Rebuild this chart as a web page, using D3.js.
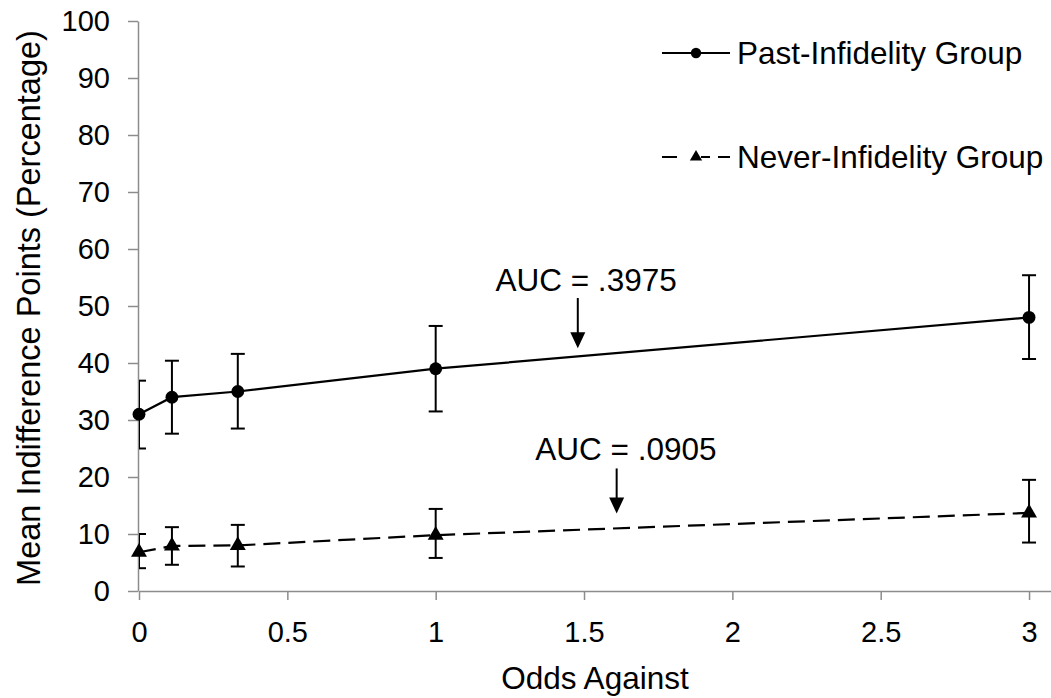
<!DOCTYPE html>
<html>
<head>
<meta charset="utf-8">
<script src="https://cdn.jsdelivr.net/npm/d3@7"></script>
<style>
  body { margin: 0; background: #fff; }
  svg { display: block; font-family: "Liberation Sans", Arial, sans-serif; }
</style>
</head>
<body>
<div id="chart"></div>
<script>
// odds against values and group means (percent)
const oddsAgainst = [0, 0.111, 0.333, 1, 3];
const pastMean = [31, 34, 35, 39, 48];
const pastUpper = [36.9, 40.4, 41.6, 46.5, 55.4];
const pastLower = [25.0, 27.6, 28.5, 31.5, 40.7];
const neverMean = [6.8, 7.9, 8, 9.8, 13.7];
const neverUpper = [10.0, 11.2, 11.6, 14.4, 19.5];
const neverLower = [4.0, 4.6, 4.3, 5.8, 8.5];

const xTicks = [0, 0.5, 1, 1.5, 2, 2.5, 3];
const yTicks = [0, 10, 20, 30, 40, 50, 60, 70, 80, 90, 100];
const seriesNames = ['Past-Infidelity Group', 'Never-Infidelity Group'];

// AUC annotations: label, arrow x, arrow tail / tip y, text x / baseline y
const annoLabels = ['AUC = .3975', 'AUC = .0905'];
const annoArrowX = [1.479, 1.61];
const annoTailY = [51.4, 21.5];
const annoTipY = [42.6, 13.6];
const annoTextX = [1.507, 1.641];
const annoTextY = [52.7, 23.0];

const W = 1051, H = 698;
const margin = { top: 21, right: 0, bottom: 107, left: 139 };
const axisColor = '#8c8c8c';

const svg = d3.select('#chart').append('svg')
  .attr('width', W)
  .attr('height', H);

const x = d3.scaleLinear().domain([0, 3.074]).range([margin.left, W - margin.right]);
const y = d3.scaleLinear().domain([0, 100]).range([H - margin.bottom, margin.top]);

svg.append('defs').append('clipPath')
  .attr('id', 'plot-clip')
  .append('rect')
  .attr('x', margin.left)
  .attr('y', 0)
  .attr('width', W - margin.left)
  .attr('height', H);

// y axis
const yAxis = svg.append('g')
  .attr('transform', `translate(${margin.left - 1},0)`)
  .call(d3.axisLeft(y).tickValues(yTicks).tickSize(10).tickPadding(18).tickSizeOuter(0));
yAxis.select('.domain').attr('stroke', axisColor).attr('stroke-width', 1.5);
yAxis.selectAll('.tick line').attr('stroke', axisColor).attr('stroke-width', 1.5);
yAxis.selectAll('.tick text')
  .style('font-size', '29px')
  .attr('fill', '#000');

// x axis
const xAxis = svg.append('g')
  .attr('transform', `translate(0,${y(0)})`)
  .call(d3.axisBottom(x).tickValues(xTicks).tickSize(9).tickPadding(21).tickSizeOuter(0)
    .tickFormat(d => String(d)));
xAxis.select('.domain').attr('stroke', axisColor).attr('stroke-width', 1.5);
xAxis.selectAll('.tick line').attr('stroke', axisColor).attr('stroke-width', 1.5);
xAxis.selectAll('.tick text')
  .style('font-size', '29px')
  .attr('fill', '#000');

// axis titles
svg.append('text')
  .attr('x', (margin.left + W) / 2)
  .attr('y', 689)
  .attr('text-anchor', 'middle')
  .style('font-size', '31.5px')
  .text('Odds Against');

svg.append('text')
  .attr('transform', `translate(40,308) rotate(-90)`)
  .attr('text-anchor', 'middle')
  .style('font-size', '32.5px')
  .text('Mean Indifference Points (Percentage)');

const series = [
  { name: seriesNames[0], mean: pastMean, upper: pastUpper, lower: pastLower, dash: null, marker: d3.symbolCircle },
  { name: seriesNames[1], mean: neverMean, upper: neverUpper, lower: neverLower, dash: '17,8', marker: d3.symbolTriangle }
];

const line = d3.line()
  .x((d, i) => x(oddsAgainst[i]))
  .y(d => y(d));

const plot = svg.append('g');

series.forEach(s => {
  // error bars
  const eb = plot.append('g').attr('clip-path', 'url(#plot-clip)');
  oddsAgainst.forEach((o, i) => {
    const cx = x(o);
    eb.append('line')
      .attr('x1', cx).attr('x2', cx)
      .attr('y1', y(s.upper[i])).attr('y2', y(s.lower[i]))
      .attr('stroke', '#000').attr('stroke-width', 2);
    [s.upper[i], s.lower[i]].forEach(v => {
      eb.append('line')
        .attr('x1', cx - 7).attr('x2', cx + 7)
        .attr('y1', y(v)).attr('y2', y(v))
        .attr('stroke', '#000').attr('stroke-width', 2);
    });
  });

  plot.append('path')
    .attr('d', line(s.mean))
    .attr('fill', 'none')
    .attr('stroke', '#000')
    .attr('stroke-width', 2.2)
    .attr('stroke-dasharray', s.dash);

  const size = s.marker === d3.symbolCircle ? 130 : 110;
  plot.selectAll(null)
    .data(s.mean)
    .join('path')
    .attr('transform', (d, i) => `translate(${x(oddsAgainst[i])},${y(d)})`)
    .attr('d', d3.symbol().type(s.marker).size(size))
    .attr('fill', '#000');
});

// annotations
annoLabels.forEach((label, i) => {
  svg.append('text')
    .attr('x', x(annoTextX[i]))
    .attr('y', y(annoTextY[i]))
    .attr('text-anchor', 'middle')
    .style('font-size', '31.5px')
    .text(label);

  const ax = x(annoArrowX[i]);
  const tip = y(annoTipY[i]);
  svg.append('line')
    .attr('x1', ax).attr('x2', ax)
    .attr('y1', y(annoTailY[i])).attr('y2', tip - 12)
    .attr('stroke', '#000').attr('stroke-width', 2);
  svg.append('path')
    .attr('d', `M${ax - 7.5},${tip - 16}L${ax + 7.5},${tip - 16}L${ax},${tip}Z`)
    .attr('fill', '#000');
});

// legend
const legendRows = [53, 157];
series.forEach((s, i) => {
  const g = svg.append('g').attr('transform', `translate(0,${legendRows[i]})`);
  g.append('line')
    .attr('x1', 662).attr('x2', 730)
    .attr('y1', 0).attr('y2', 0)
    .attr('stroke', '#000').attr('stroke-width', 2.2)
    .attr('stroke-dasharray', s.dash ? '15,12,0,12,9,8' : null);
  g.append('path')
    .attr('transform', 'translate(696,0)')
    .attr('d', d3.symbol().type(s.marker).size(s.marker === d3.symbolCircle ? 85 : 65))
    .attr('fill', '#000');
  g.append('text')
    .attr('x', 737)
    .attr('y', 11)
    .style('font-size', '31.5px')
    .text(s.name);
});
</script>
</body>
</html>
